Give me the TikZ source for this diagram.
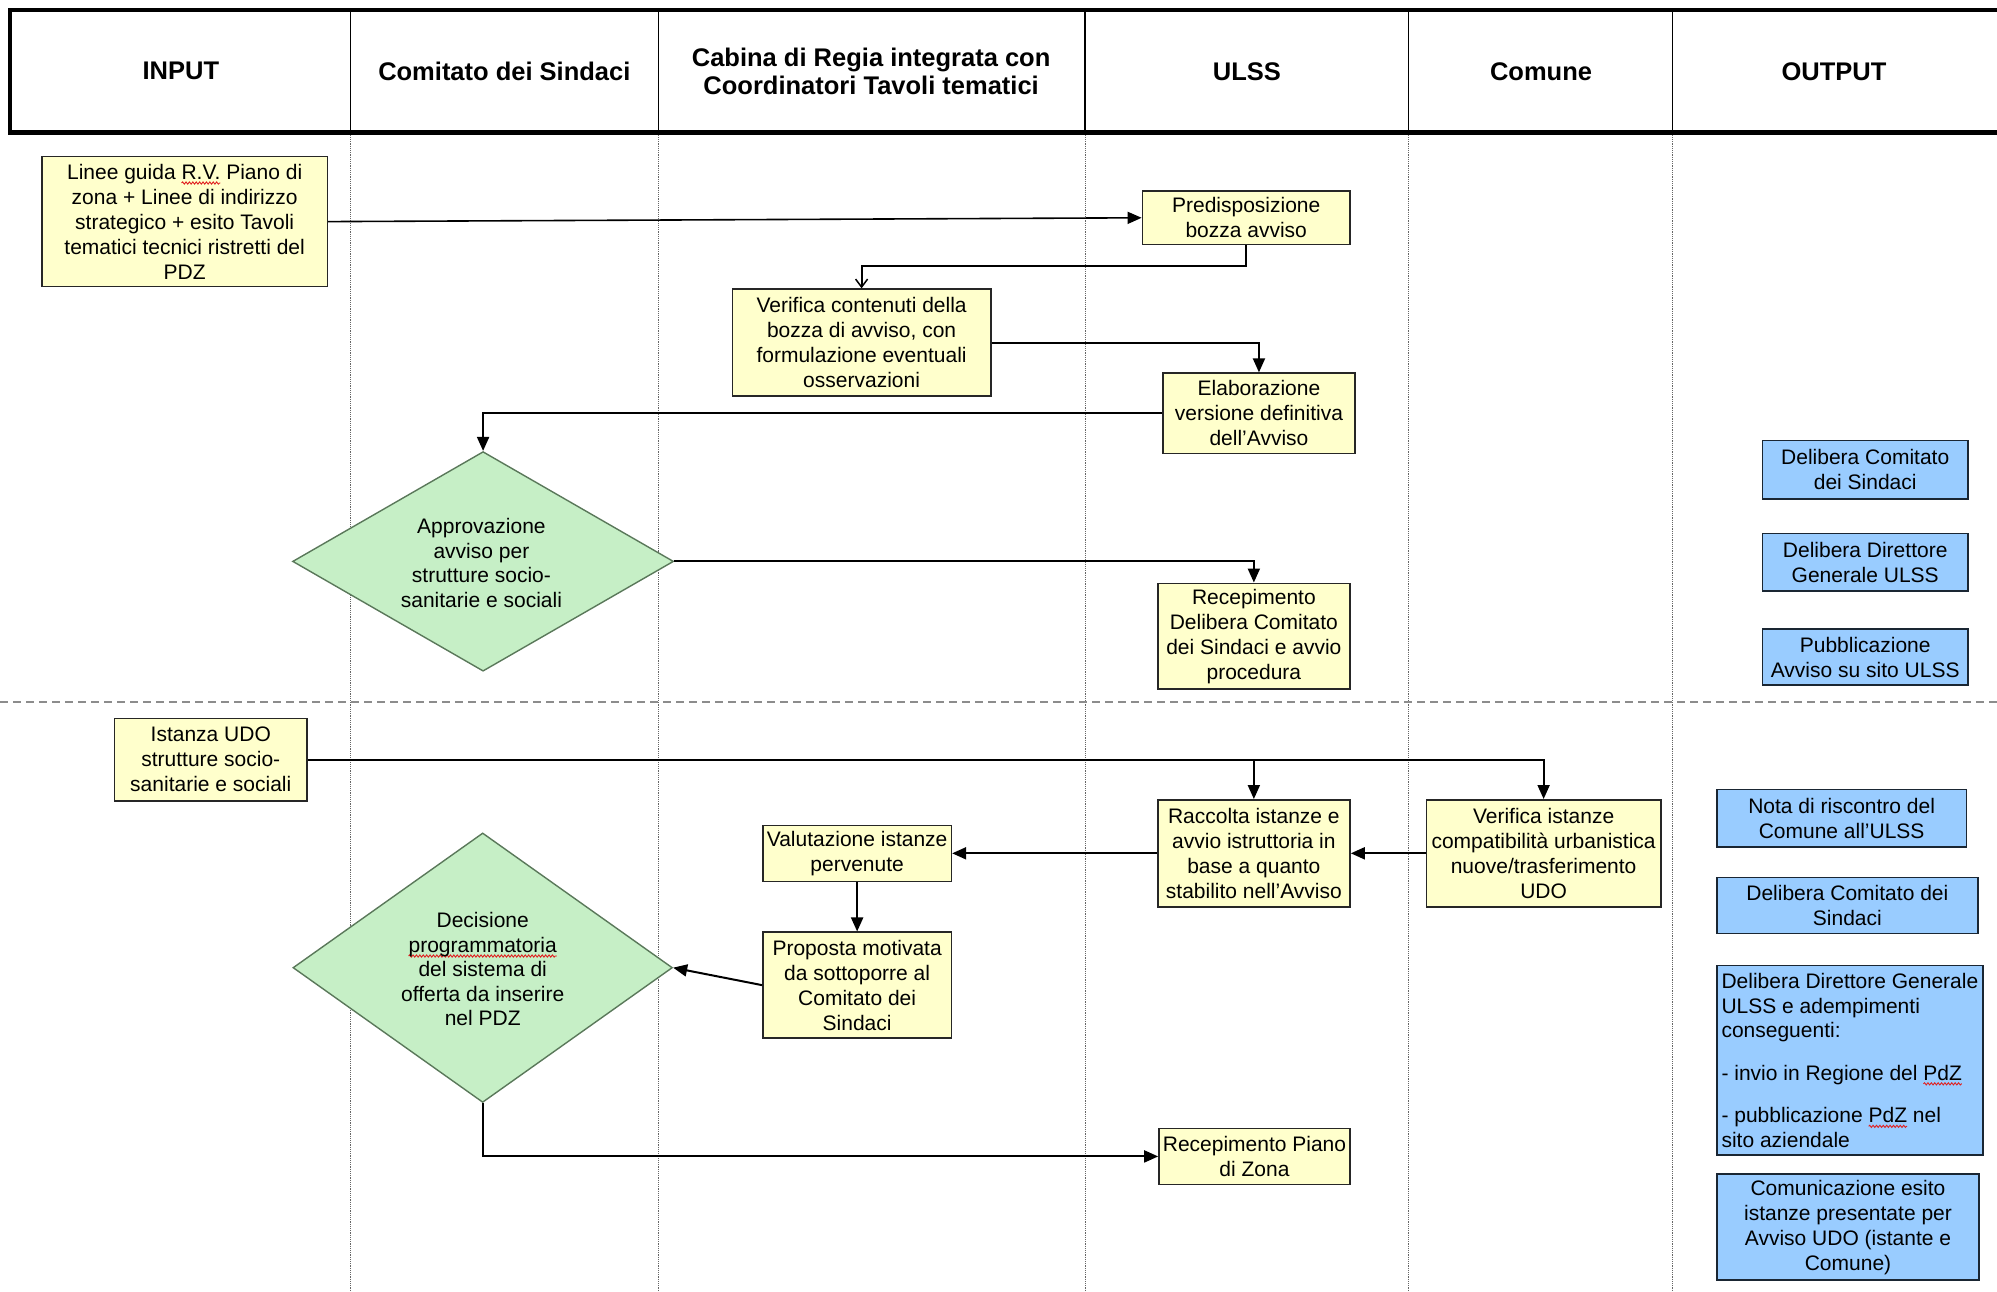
\documentclass[tikz,border=0pt]{standalone}
\usepackage{fontspec}
\setmainfont{Liberation Sans}
\usetikzlibrary{arrows.meta,shapes.geometric,decorations.pathmorphing}
\definecolor{ybg}{HTML}{FFFFCC}
\definecolor{gbg}{HTML}{C6EFC6}
\definecolor{gdr}{HTML}{5A785A}
\definecolor{bbg}{HTML}{99CCFF}
\definecolor{bdr}{HTML}{1A2633}
\definecolor{spell}{HTML}{E02020}
\newlength\spwid
\newcommand{\spellwave}[1]{\settowidth\spwid{#1}\rlap{\tikz[overlay,baseline=0pt]\draw[spell,line width=0.9pt,decorate,decoration={snake,amplitude=1.1pt,segment length=3.4pt}] (0pt,-3.8pt) -- (\spwid,-3.8pt);}#1}
\begin{document}
\begin{tikzpicture}[x=1.2736pt,y=-1.2736pt,
  txt/.style={font=\fontsize{21}{25}\selectfont},
  place/.style n args={4}{minimum width={(#3-#1)*1.2736pt}, minimum height={(#4-#2)*1.2736pt}, at={({(#1+#3)/2},{(#2+#4)/2})}},
  ybox/.style={draw=black!85, line width=1.6pt, fill=ybg, inner sep=0pt, align=center, txt},
  bbox/.style={draw=bdr, line width=1.6pt, fill=bbg, inner sep=0pt, align=center, txt},
  dia/.style={diamond, draw=gdr, line width=1.4pt, fill=gbg, inner sep=0pt},
  diatext/.style={align=center, inner sep=0pt, font=\fontsize{21}{24.5}\selectfont},
  head/.style={align=center, inner sep=0pt, font=\bfseries\fontsize{25.5}{28}\selectfont},
  arr/.style={line width=2pt, -{Triangle[length=14pt,width=12pt]}},
  thinarr/.style={line width=1.8pt, -{Straight Barb[length=8pt,width=12pt,line width=1.5pt]}},
  lane/.style={black!60, line width=1.2pt, densely dotted},
  framestyle/.style={line width=4.5pt},
  hsep/.style={line width=1.3pt}]

\useasboundingbox (0,0) rectangle (1568,1014.4);

% lanes
\foreach \x in {275,517,852,1106,1313} {
  \draw[lane] (\x,104) -- (\x,1014.4);
  \draw[hsep] (\x,8) -- (\x,104);
}
\draw[framestyle] (8,8) rectangle (1578,104);
\draw[black!45, line width=2.5pt, dash pattern=on 8pt off 5pt] (0,551) -- (1568,551);

% headers
\node[head] (hin) at (142,56) {INPUT};
\node[head] (hcs) at (396,56) {Comitato dei Sindaci};
\node[head] (hcr) at (684,56) {Cabina di Regia integrata con\\Coordinatori Tavoli tematici};
\node[head] (hul) at (979,56) {ULSS};
\node[head] (hco) at (1210,56) {Comune};
\node[head] (hout) at (1440,56) {OUTPUT};

% yellow boxes
\node[ybox, place={33}{123}{257}{225}] (n1) {Linee guida \spellwave{R.V.} Piano di\\zona + Linee di indirizzo\\strategico + esito Tavoli\\tematici tecnici ristretti del\\PDZ};
\node[ybox, place={897}{150}{1060}{192}] (n2) {Predisposizione\\bozza avviso};
\node[ybox, place={575}{227}{778}{311}] (n3) {Verifica contenuti della\\bozza di avviso, con\\formulazione eventuali\\osservazioni};
\node[ybox, place={913}{293}{1064}{356}] (n4) {Elaborazione\\versione definitiva\\dell’Avviso};
\node[ybox, place={909}{458}{1060}{541}] (n6) {Recepimento\\Delibera Comitato\\dei Sindaci e avvio\\procedura};
\node[ybox, place={90}{564}{241}{629}] (n10) {Istanza UDO\\strutture socio-\\sanitarie e sociali};
\node[ybox, place={599}{648}{747}{692}] (n11) {Valutazione istanze\\pervenute};
\node[ybox, place={599}{732}{747}{815}] (n12) {Proposta motivata\\da sottoporre al\\Comitato dei\\Sindaci};
\node[ybox, place={909}{628}{1060}{712}] (n14) {Raccolta istanze e\\avvio istruttoria in\\base a quanto\\stabilito nell’Avviso};
\node[ybox, place={1120}{628}{1304}{712}] (n15) {Verifica istanze\\compatibilità urbanistica\\nuove/trasferimento\\UDO};
\node[ybox, place={910}{886}{1060}{930}] (n16) {Recepimento Piano\\di Zona};

% diamonds
\node[dia, minimum width=381pt, minimum height=219.6pt] (d1) at (379.3,440.8) {};
\node[diatext] (d1t) at (378,442) {Approvazione\\avviso per\\strutture socio-\\sanitarie e sociali};
\node[dia, minimum width=379.5pt, minimum height=269.5pt] (d2) at (379,759.8) {};
\node[diatext] (d2t) at (379,761) {Decisione\\\spellwave{programmatoria}\\del sistema di\\offerta da inserire\\nel PDZ};

% blue boxes
\node[bbox, place={1384}{346}{1545}{392}] (b1) {Delibera Comitato\\dei Sindaci};
\node[bbox, place={1384}{419}{1545}{464}] (b2) {Delibera Direttore\\Generale ULSS};
\node[bbox, place={1384}{494}{1545}{538}] (b3) {Pubblicazione\\Avviso su sito ULSS};
\node[bbox, place={1348}{620}{1544}{665}] (b4) {Nota di riscontro del\\Comune all’ULSS};
\node[bbox, place={1348}{689}{1553}{733}] (b5) {Delibera Comitato dei\\Sindaci};
\node[bbox, place={1348}{758}{1557}{907}, align=left, font=\fontsize{21}{24.5}\selectfont] (b6) {Delibera Direttore Generale\\ULSS e adempimenti\\conseguenti:\\[18pt]- invio in Regione del \spellwave{PdZ}\\[18pt]- pubblicazione \spellwave{PdZ} nel\\sito aziendale};
\node[bbox, place={1348}{922}{1554}{1005}] (b7) {Comunicazione esito\\istanze presentate per\\Avviso UDO (istante e\\Comune)};

% connectors
\draw[arr, line width=1.6pt] (n1.east) -- (n2.west);
\draw[thinarr] (n2.south) -- ++(0,16) -| (n3.north);
\draw[arr] (n3.east) -| (n4.north);
\draw[arr] (n4.west) -| (d1.north);
\draw[arr] (d1.east) -| (n6.north);
\draw[arr] (n10.east) -| (n15.north);
\draw[arr] (n10.east -| n14.north) -- (n14.north);
\draw[arr] (n15.west) -- (n14.east);
\draw[arr] (n14.west) -- (n11.east);
\draw[arr] (n11.south) -- (n12.north);
\draw[arr] (n12.west) -- (d2.east);
\draw[arr] (d2.south) |- (n16.west);
\end{tikzpicture}
\end{document}
